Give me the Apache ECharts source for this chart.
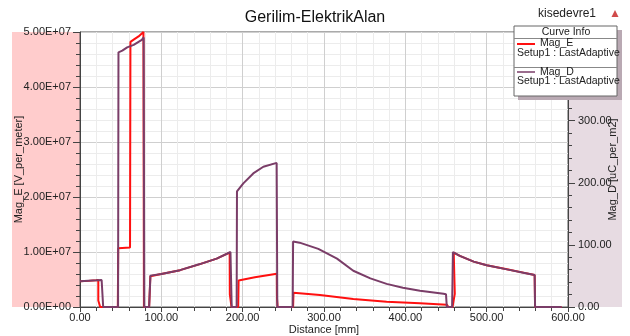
<!DOCTYPE html>
<html>
<head>
<meta charset="utf-8">
<script src="https://cdn.jsdelivr.net/npm/echarts@6/dist/echarts.min.js"></script>
<style>
html,body{margin:0;padding:0;background:#fff;}
#chart{width:630px;height:336px;}
</style>
</head>
<body>
<div id="chart"></div>
<script>
// ---- Data ----
const chartTitle = 'Gerilim-ElektrikAlan';
const projectName = 'kisedevre1';
const xAxisName = 'Distance [mm]';
const leftAxisName = 'Mag_E [V_per_meter]';
const rightAxisName = 'Mag_D [uC_per_m2]';
const seriesNames = ['Mag_E', 'Mag_D'];
const setupLabel = 'Setup1 : LastAdaptive';

// Mag_E : distance (mm) and value (V/m)
const magE_mm = [0, 10, 20, 22.5, 22.5, 24.5, 24.8, 46.5, 47, 61.5, 62, 66, 72, 78, 78.6, 85, 86.5, 100, 123, 147.5, 168, 184, 184.2, 186, 186.3, 194.5, 195, 215, 242, 242.2, 243, 262, 262.5, 295, 336, 377, 418, 451, 452.5, 453, 458, 460.8, 459.5, 467, 484, 500, 525, 545, 559, 559.5, 592];
const magE_Vpm = [4.7e6, 4.75e6, 4.85e6, 4.9e6, 1.2e6, 1.1e6, 0, 0, 1.07e7, 1.08e7, 4.82e7, 4.86e7, 4.92e7, 5.0e7, 0, 0, 5.6e6, 6.0e6, 6.7e6, 7.8e6, 8.8e6, 9.9e6, 2.3e6, 2.2e6, 0, 0, 4.8e6, 5.4e6, 6.05e6, 1.6e6, 0, 0, 2.6e6, 2.18e6, 1.45e6, 0.97e6, 0.67e6, 0.42e6, 0.38e6, 0, 0, 2.4e6, 9.9e6, 9.3e6, 8.25e6, 7.6e6, 6.85e6, 6.25e6, 5.8e6, 0, 0];

// Mag_D : distance (mm) and value (uC/m^2)
const magD_mm = [0, 20, 26.6, 28.5, 46.8, 47.3, 52, 58, 66, 72, 76, 78.3, 79, 85, 86.6, 100, 123, 147.5, 168, 185, 186.5, 192.6, 193, 200.8, 213, 225.4, 241.8, 242.6, 261.5, 262, 270, 293, 316, 336, 357, 377, 397, 418, 447, 450, 451, 457.5, 458.5, 467, 484, 500, 525, 545, 559, 559.5, 592];
const magD_uC = [41.6, 42.9, 43.4, 0, 0, 410, 412.6, 418, 422, 426.8, 430, 434, 0, 0, 50.5, 53.1, 59.3, 69.1, 77.9, 88.5, 0, 0, 186, 199, 215, 225.8, 232, 0, 0, 105.4, 103.6, 93.5, 77.9, 58.4, 46, 37.2, 31, 26.1, 21.2, 20.4, 0, 0, 88.5, 82.3, 73, 67.3, 60.6, 55.3, 51.4, 0, 0];

// Axis ranges / tick steps
const xRange = [0, 600], xStep = 100;
const eRange = [0, 5e7], eStep = 1e7;
const dRange = [0, 442.7], dStep = 100;

// ---- Chart ----
const FONT = 'Liberation Sans, Arial, sans-serif';
const RED = '#ff1010';
const PURPLE = '#7a3d68';

function sci(v) {
  if (v === 0) return '0.00E+00';
  const e = Math.floor(Math.log10(Math.abs(v)) + 1e-9);
  const m = v / Math.pow(10, e);
  return m.toFixed(2) + 'E' + (e < 0 ? '-' : '+') + String(Math.abs(e)).padStart(2, '0');
}

const G = {left: 80, right: 62, top: 32, bottom: 29};
const chart = echarts.init(document.getElementById('chart'), null, {renderer: 'canvas'});

const labelStyle = {color: '#222', fontSize: 11, fontFamily: FONT};
const ZL = 1;

chart.setOption({
  animation: false,
  backgroundColor: '#fff',
  title: {
    text: chartTitle, left: 'center', top: 5,
    textStyle: {fontSize: 16, fontWeight: 'normal', color: '#111', fontFamily: FONT}
  },
  grid: {left: G.left, right: G.right, top: G.top, bottom: G.bottom, show: true,
         containLabel: false, outerBoundsMode: 'none',
         backgroundColor: '#fff', borderColor: '#555', borderWidth: 1},
  xAxis: {
    type: 'value', min: xRange[0], max: xRange[1], interval: xStep,
    name: xAxisName, nameLocation: 'middle', nameGap: 17, nameMoveOverlap: false,
    nameTextStyle: {color: '#222', fontSize: 11, fontFamily: FONT},
    axisLine: {lineStyle: {color: '#444'}},
    axisTick: {show: true, length: 5, lineStyle: {color: '#444'}},
    minorTick: {show: true, splitNumber: 5, length: 4, lineStyle: {color: '#444'}},
    axisLabel: Object.assign({margin: 5, formatter: v => v.toFixed(2)}, labelStyle),
    splitLine: {show: true, lineStyle: {color: '#cfcfcf'}},
    minorSplitLine: {show: true, lineStyle: {color: '#ececec'}}
  },
  yAxis: [{
    type: 'value', min: eRange[0], max: eRange[1], interval: eStep, position: 'left',
    name: leftAxisName, nameLocation: 'middle', nameGap: 56, nameRotate: 90, nameMoveOverlap: false,
    nameTextStyle: {color: '#222', fontSize: 11, fontFamily: FONT},
    axisLine: {show: true, lineStyle: {color: '#444'}},
    axisTick: {show: true, length: 7, lineStyle: {color: '#444'}},
    minorTick: {show: true, splitNumber: 5, length: 4, lineStyle: {color: '#444'}},
    axisLabel: Object.assign({margin: 9, formatter: sci}, labelStyle),
    splitLine: {show: true, lineStyle: {color: '#cfcfcf'}},
    minorSplitLine: {show: true, lineStyle: {color: '#ececec'}}
  }, {
    type: 'value', min: dRange[0], max: dRange[1], interval: dStep, position: 'right',
    name: rightAxisName, nameLocation: 'middle', nameGap: 39, nameRotate: 90, nameMoveOverlap: false,
    nameTextStyle: {color: '#222', fontSize: 11, fontFamily: FONT},
    axisLine: {show: true, lineStyle: {color: '#444'}},
    axisTick: {show: true, length: 7, lineStyle: {color: '#444'}},
    minorTick: {show: true, splitNumber: 5, length: 4, lineStyle: {color: '#444'}},
    axisLabel: Object.assign({margin: 10, showMaxLabel: false, formatter: v => v.toFixed(2)}, labelStyle),
    splitLine: {show: false}
  }],
  series: [{
    name: seriesNames[0], type: 'line', yAxisIndex: 0, showSymbol: false, symbol: 'none',
    lineStyle: {color: RED, width: 2}, itemStyle: {color: RED},
    data: magE_mm.map((x, i) => [x, magE_Vpm[i]]), z: 3
  }, {
    name: seriesNames[1], type: 'line', yAxisIndex: 1, showSymbol: false, symbol: 'none',
    lineStyle: {color: PURPLE, width: 2}, itemStyle: {color: PURPLE},
    data: magD_mm.map((x, i) => [x, magD_uC[i]]), z: 4
  }],
  graphic: [
    // axis-side tinted panels
    {type: 'rect', z: -10, silent: true, shape: {x: 12, y: 32, width: 68, height: 275}, style: {fill: '#ffcccc'}},
    {type: 'rect', z: -10, silent: true, shape: {x: 568, y: 32, width: 54, height: 275}, style: {fill: '#e7dbe2'}},
    // project label and marker
    {type: 'text', zlevel: ZL, left: 538, top: 8, style: {text: projectName, font: '12px ' + FONT, fill: '#222'}},
    {type: 'polygon', zlevel: ZL, shape: {points: [[615, 10], [611.5, 17], [618.5, 17]]}, style: {fill: '#d04a4a'}},
    // legend box
    {type: 'rect', zlevel: ZL, z: 1, shape: {x: 518, y: 30, width: 104, height: 70}, style: {fill: '#b9a9b3'}},
    {type: 'rect', zlevel: ZL, z: 2, shape: {x: 514, y: 26, width: 103, height: 70}, style: {fill: '#fff', stroke: '#666', lineWidth: 1}},
    {type: 'text', zlevel: ZL, z: 3, style: {x: 566, y: 32, text: 'Curve Info', font: '10.5px ' + FONT, fill: '#222', align: 'center', verticalAlign: 'middle'}},
    {type: 'line', zlevel: ZL, z: 3, shape: {x1: 514, y1: 38.5, x2: 617, y2: 38.5}, style: {stroke: '#888', lineWidth: 1}},
    {type: 'line', zlevel: ZL, z: 3, shape: {x1: 517, y1: 44, x2: 535, y2: 44}, style: {stroke: RED, lineWidth: 2}},
    {type: 'text', zlevel: ZL, z: 3, style: {x: 540, y: 43, text: seriesNames[0], font: '10.5px ' + FONT, fill: '#222', verticalAlign: 'middle'}},
    {type: 'text', zlevel: ZL, z: 3, style: {x: 517, y: 53, text: setupLabel, font: '10.5px ' + FONT, fill: '#222', verticalAlign: 'middle'}},
    {type: 'line', zlevel: ZL, z: 3, shape: {x1: 514, y1: 67.5, x2: 617, y2: 67.5}, style: {stroke: '#888', lineWidth: 1}},
    {type: 'line', zlevel: ZL, z: 3, shape: {x1: 517, y1: 72, x2: 535, y2: 72}, style: {stroke: PURPLE, lineWidth: 1.5}},
    {type: 'text', zlevel: ZL, z: 3, style: {x: 540, y: 72, text: seriesNames[1], font: '10.5px ' + FONT, fill: '#222', verticalAlign: 'middle'}},
    {type: 'text', zlevel: ZL, z: 3, style: {x: 517, y: 81, text: setupLabel, font: '10.5px ' + FONT, fill: '#222', verticalAlign: 'middle'}}
  ]
});
</script>
</body>
</html>
